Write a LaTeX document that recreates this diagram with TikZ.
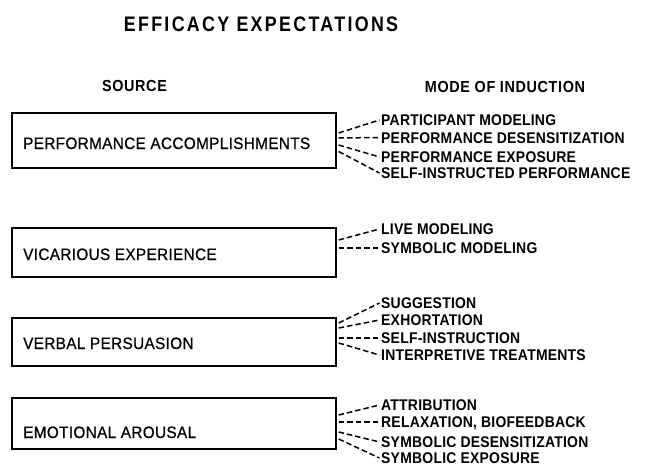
\documentclass[tikz,border=0pt]{standalone}
\usepackage{fontspec}
\setmainfont{Liberation Sans}
\newfontfamily\labfont[FakeStretch=0.9,LetterSpace=1.5]{Liberation Sans Bold}
\newfontfamily\titfont[FakeStretch=0.85,LetterSpace=11]{Liberation Sans Bold}
\newfontfamily\headfont[FakeStretch=0.9,LetterSpace=4]{Liberation Sans Bold}
\newfontfamily\boxfont[FakeStretch=0.93,LetterSpace=2,FakeBold=0.6]{Liberation Sans}
\usetikzlibrary{calc}
\begin{document}
\begin{tikzpicture}[x=1pt,y=-1pt,
  srcbox/.style={draw, line width=2.3pt, minimum width=324pt, inner sep=0pt},
  boxtext/.style={anchor=west, inner sep=0pt, font=\boxfont\fontsize{16.5}{18}\selectfont, text height=12pt, text depth=0pt},
  modetext/.style={anchor=west, inner sep=0pt, font=\labfont\fontsize{15.5}{17}\selectfont, text height=11pt, text depth=0pt},
  dl/.style={line width=1.5pt, dash pattern=on 5.5pt off 3pt}]
\useasboundingbox (0,0) rectangle (646,466);
\node[font=\titfont\fontsize{21}{24}\selectfont, inner sep=0pt, text height=15pt, text depth=0pt] (title) at (261,24) {EFFICACY EXPECTATIONS};
\node[font=\headfont\fontsize{16}{18}\selectfont, inner sep=0pt, text height=12pt, text depth=0pt] (src) at (134.5,85) {SOURCE};
\node[font=\headfont\fontsize{16}{18}\selectfont, inner sep=0pt, text height=12pt, text depth=0pt] (mode) at (505,86) {MODE OF INDUCTION};
% boxes
\node[srcbox, minimum height=55pt] (b1) at (174,140.5) {};
\node[srcbox, minimum height=49pt] (b2) at (174,252.5) {};
\node[srcbox, minimum height=48pt] (b3) at (174,342) {};
\node[srcbox, minimum height=51pt] (b4) at (174,423.5) {};
\node[boxtext] (t1) at (23,143) {PERFORMANCE ACCOMPLISHMENTS};
\node[boxtext] (t2) at (23,254) {VICARIOUS EXPERIENCE};
\node[boxtext] (t3) at (23,343) {VERBAL PERSUASION};
\node[boxtext] (t4) at (23,432) {EMOTIONAL AROUSAL};
% modes
\node[modetext] (m11) at (381,120) {PARTICIPANT MODELING};
\node[modetext] (m12) at (381,137.5) {PERFORMANCE DESENSITIZATION};
\node[modetext] (m13) at (381,157) {PERFORMANCE EXPOSURE};
\node[modetext] (m14) at (381,173) {SELF-INSTRUCTED PERFORMANCE};
\node[modetext] (m21) at (381,229) {LIVE MODELING};
\node[modetext] (m22) at (381,248) {SYMBOLIC MODELING};
\node[modetext] (m31) at (381,303) {SUGGESTION};
\node[modetext] (m32) at (381,320) {EXHORTATION};
\node[modetext] (m33) at (381,338) {SELF-INSTRUCTION};
\node[modetext] (m34) at (381,355) {INTERPRETIVE TREATMENTS};
\node[modetext] (m41) at (381,405) {ATTRIBUTION};
\node[modetext] (m42) at (381,422) {RELAXATION, BIOFEEDBACK};
\node[modetext] (m43) at (381,442) {SYMBOLIC DESENSITIZATION};
\node[modetext] (m44) at (381,458) {SYMBOLIC EXPOSURE};
% connectors
\draw[dl] ($(b1.east)+(1.5,-7.5)$) -- ($(m11.west)+(-1.5,0)$);
\draw[dl] ($(b1.east)+(1.5,-2.5)$) -- ($(m12.west)+(-1.5,0)$);
\draw[dl] ($(b1.east)+(1.5,4.5)$) -- ($(m13.west)+(-1.5,0)$);
\draw[dl] ($(b1.east)+(1.5,11)$) -- ($(m14.west)+(-1.5,0)$);
\draw[dl] ($(b2.east)+(1.5,-12.5)$) -- ($(m21.west)+(-1.5,0)$);
\draw[dl] ($(b2.east)+(1.5,-4.5)$) -- ($(m22.west)+(-1.5,0)$);
\draw[dl] ($(b3.east)+(1.5,-19)$) -- ($(m31.west)+(-1.5,0)$);
\draw[dl] ($(b3.east)+(1.5,-14)$) -- ($(m32.west)+(-1.5,0)$);
\draw[dl] ($(b3.east)+(1.5,-4)$) -- ($(m33.west)+(-1.5,0)$);
\draw[dl] ($(b3.east)+(1.5,1)$) -- ($(m34.west)+(-1.5,0)$);
\draw[dl] ($(b4.east)+(1.5,-8.5)$) -- ($(m41.west)+(-1.5,0)$);
\draw[dl] ($(b4.east)+(1.5,-1.5)$) -- ($(m42.west)+(-1.5,0)$);
\draw[dl] ($(b4.east)+(1.5,8.5)$) -- ($(m43.west)+(-1.5,0)$);
\draw[dl] ($(b4.east)+(1.5,15.5)$) -- ($(m44.west)+(-1.5,0)$);
\end{tikzpicture}
\end{document}
